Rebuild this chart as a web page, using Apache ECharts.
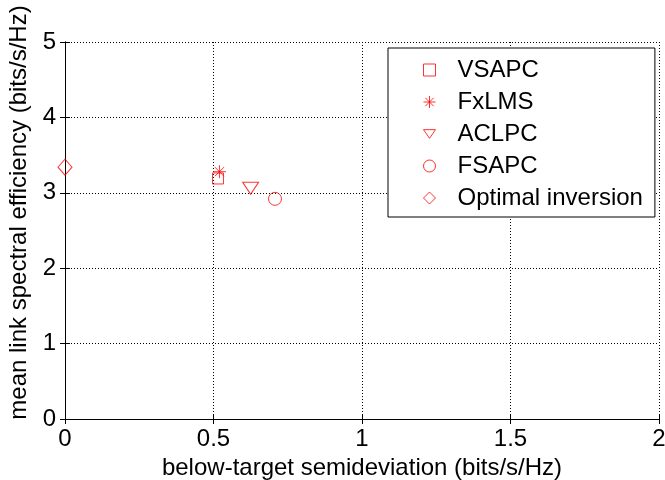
<!DOCTYPE html>
<html><head><meta charset="utf-8">
<script src="https://cdn.jsdelivr.net/npm/echarts@6/dist/echarts.min.js"></script>
<style>html,body{margin:0;padding:0;background:#fff}#c{width:665px;height:480px}</style>
</head><body><div id="c"></div>
<script>
const seriesNames = ['VSAPC', 'FxLMS', 'ACLPC', 'FSAPC', 'Optimal inversion'];
const seriesPoints = [
  [[0.515, 3.19]],
  [[0.52, 3.28]],
  [[0.625, 3.06]],
  [[0.707, 2.92]],
  [[0.0, 3.34]]
];
const xTicks = [0, 0.5, 1, 1.5, 2];
const yTicks = [0, 1, 2, 3, 4, 5];

const FONT = '"Liberation Sans", Arial, sans-serif';
const RED = '#ff0000';
const symbols = [
  {symbol: 'rect', size: 11},
  {symbol: 'path://M1,0L1,2M0,1L2,1M0.3,0.3L1.7,1.7M0.3,1.7L1.7,0.3', size: 13},
  {symbol: 'path://M0,0L2,0L1,1.45Z', size: [16, 12]},
  {symbol: 'circle', size: 13},
  {symbol: 'diamond', size: [14, 16]}
];

const chart = echarts.init(document.getElementById('c'), null, {renderer: 'canvas'});
const axisCommon = {
  axisLine: {show: true, lineStyle: {color: '#000', width: 1}},
  axisTick: {show: true, inside: true, length: 5, lineStyle: {color: '#000'}},
};
chart.setOption({
  animation: false,
  backgroundColor: '#fff',
  textStyle: {fontFamily: FONT},
  grid: {left: 65, right: 6, top: 42, bottom: 61, show: false, containLabel: false, outerBoundsMode: 'none'},
  xAxis: [{
    type: 'value', min: xTicks[0], max: xTicks[xTicks.length - 1], interval: 0.5,
    position: 'bottom',
    ...axisCommon,
    axisLabel: {color: '#000', fontSize: 24, fontFamily: FONT, margin: 8},
    splitLine: {show: true, lineStyle: {color: '#000', type: [1, 2], width: 1}},
    name: 'below-target semideviation (bits/s/Hz)',
    nameLocation: 'middle', nameGap: 36,
    nameTextStyle: {color: '#000', fontSize: 24, fontFamily: FONT}
  }, {
    type: 'value', min: xTicks[0], max: xTicks[xTicks.length - 1], interval: 0.5,
    position: 'top', ...axisCommon,
    axisLabel: {show: false}, splitLine: {show: false}
  }],
  yAxis: [{
    type: 'value', min: yTicks[0], max: yTicks[yTicks.length - 1], interval: 1,
    position: 'left', ...axisCommon,
    axisLabel: {color: '#000', fontSize: 24, fontFamily: FONT, margin: 9},
    splitLine: {show: true, lineStyle: {color: '#000', type: [1, 2], width: 1}},
    name: 'mean link spectral efficiency (bits/s/Hz)',
    nameLocation: 'middle', nameGap: 31, nameRotate: 90,
    nameTextStyle: {color: '#000', fontSize: 24, fontFamily: FONT, padding: [0, 0, 0, 36]}
  }, {
    type: 'value', min: yTicks[0], max: yTicks[yTicks.length - 1], interval: 1,
    position: 'right', ...axisCommon,
    axisLabel: {show: false}, splitLine: {show: false}
  }],
  legend: {
    orient: 'vertical', left: 388, top: 48,
    padding: [10, 12, 7, 33],
    itemGap: 8, itemWidth: 12, itemHeight: 12,
    backgroundColor: '#fff', borderColor: '#000', borderWidth: 1, borderRadius: 0,
    itemStyle: {borderWidth: 1},
    textStyle: {color: '#000', fontSize: 24, fontFamily: FONT, lineHeight: 24, padding: [0, 0, 0, 17]},
    data: seriesNames
  },
  series: seriesNames.map((name, i) => ({
    name, type: 'scatter', data: seriesPoints[i],
    symbol: symbols[i].symbol, symbolSize: symbols[i].size,
    itemStyle: {color: 'none', borderColor: RED, borderWidth: 1},
    z: 5
  }))
});
</script></body></html>
